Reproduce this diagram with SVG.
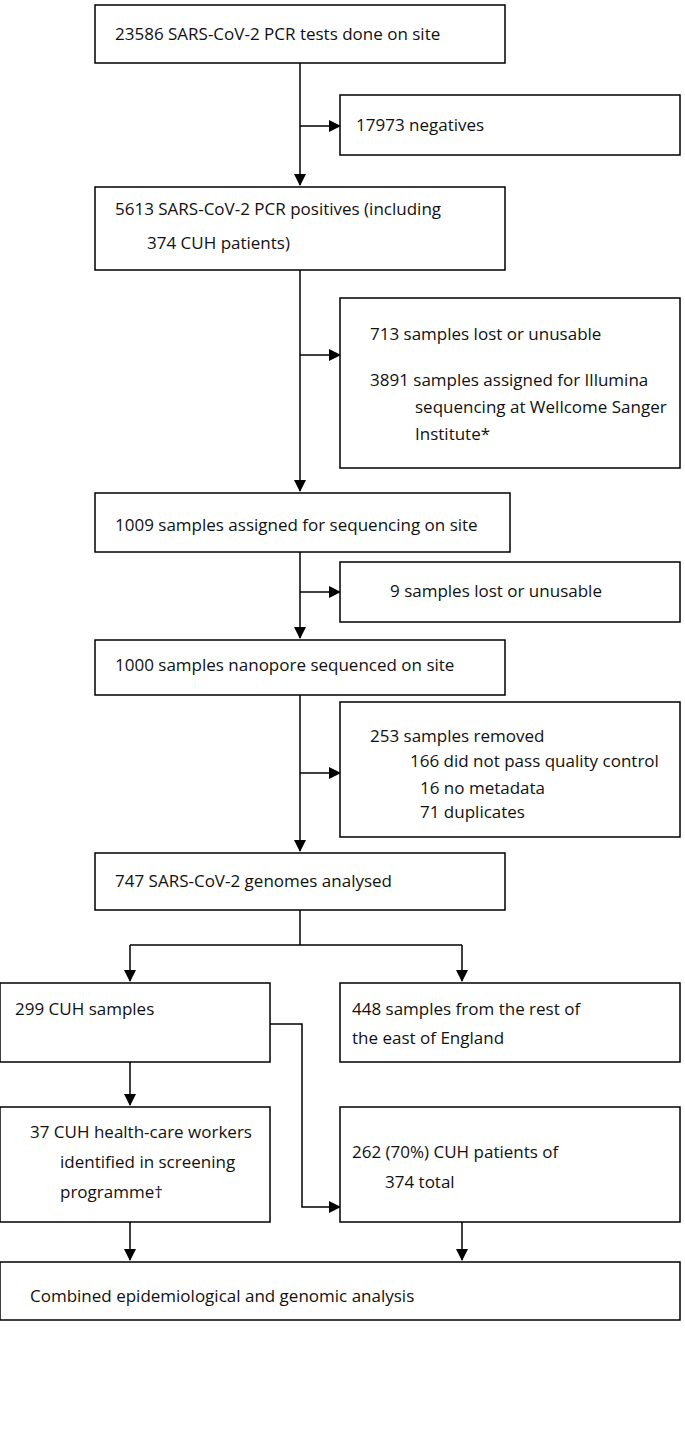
<svg xmlns="http://www.w3.org/2000/svg" width="685" height="1430" viewBox="0 0 685 1430">
<style>
rect{fill:#fff;stroke:#000;stroke-width:1.5}
text{font-family:"Open Sans","Liberation Sans",sans-serif;font-size:17px;fill:#111}
.c path{fill:none;stroke:#000;stroke-width:1.5}
</style>
<defs><marker id="a" markerWidth="12" markerHeight="12" refX="11" refY="6" orient="auto" markerUnits="userSpaceOnUse"><path d="M0,0L12,6L0,12z" fill="#000"/></marker></defs>
<rect width="685" height="1430" style="stroke:none"/>
<g class="c">
<path d="M300,63V185" marker-end="url(#a)"/>
<path d="M300,126H340" marker-end="url(#a)"/>
<path d="M300,270V491" marker-end="url(#a)"/>
<path d="M300,355H340" marker-end="url(#a)"/>
<path d="M300,552V638" marker-end="url(#a)"/>
<path d="M300,592H340" marker-end="url(#a)"/>
<path d="M300,695V851" marker-end="url(#a)"/>
<path d="M300,773H340" marker-end="url(#a)"/>
<path d="M300,910V945"/>
<path d="M130,945H462"/>
<path d="M130,945V981" marker-end="url(#a)"/>
<path d="M462,945V981" marker-end="url(#a)"/>
<path d="M270,1024H302V1207H340" marker-end="url(#a)"/>
<path d="M130,1062V1105" marker-end="url(#a)"/>
<path d="M130,1222V1260" marker-end="url(#a)"/>
<path d="M462,1222V1260" marker-end="url(#a)"/>
</g>
<g id="n1"><rect x="95" y="5" width="410" height="58"/><text x="115" y="40">23586 SARS-CoV-2 PCR tests done on site</text></g>
<g id="n2"><rect x="340" y="95" width="340" height="60"/><text x="356" y="131">17973 negatives</text></g>
<g id="n3"><rect x="95" y="187" width="410" height="83"/><text x="115" y="215">5613 SARS-CoV-2 PCR positives (including</text><text x="147" y="249">374 CUH patients)</text></g>
<g id="n4"><rect x="340" y="298" width="340" height="170"/><text x="370" y="340">713 samples lost or unusable</text><text x="370" y="386">3891 samples assigned for Illumina</text><text x="415" y="413">sequencing at Wellcome Sanger</text><text x="415" y="440">Institute*</text></g>
<g id="n5"><rect x="95" y="493" width="415" height="59"/><text x="115" y="531">1009 samples assigned for sequencing on site</text></g>
<g id="n6"><rect x="340" y="562" width="340" height="60"/><text x="390" y="597">9 samples lost or unusable</text></g>
<g id="n7"><rect x="95" y="640" width="410" height="55"/><text x="115" y="671">1000 samples nanopore sequenced on site</text></g>
<g id="n8"><rect x="340" y="702" width="340" height="135"/><text x="370" y="742">253 samples removed</text><text x="410" y="767">166 did not pass quality control</text><text x="420" y="794">16 no metadata</text><text x="420" y="818">71 duplicates</text></g>
<g id="n9"><rect x="95" y="853" width="410" height="57"/><text x="115" y="887">747 SARS-CoV-2 genomes analysed</text></g>
<g id="n10"><rect x="0" y="983" width="270" height="79"/><text x="15" y="1015">299 CUH samples</text></g>
<g id="n11"><rect x="340" y="983" width="340" height="79"/><text x="352" y="1015">448 samples from the rest of</text><text x="352" y="1044">the east of England</text></g>
<g id="n12"><rect x="0" y="1107" width="270" height="115"/><text x="30" y="1138">37 CUH health-care workers</text><text x="60" y="1168">identified in screening</text><text x="60" y="1198">programme†</text></g>
<g id="n13"><rect x="340" y="1107" width="340" height="115"/><text x="352" y="1158">262 (70%) CUH patients of</text><text x="385" y="1188">374 total</text></g>
<g id="n14"><rect x="0" y="1262" width="680" height="58"/><text x="30" y="1302">Combined epidemiological and genomic analysis</text></g>
</svg>
